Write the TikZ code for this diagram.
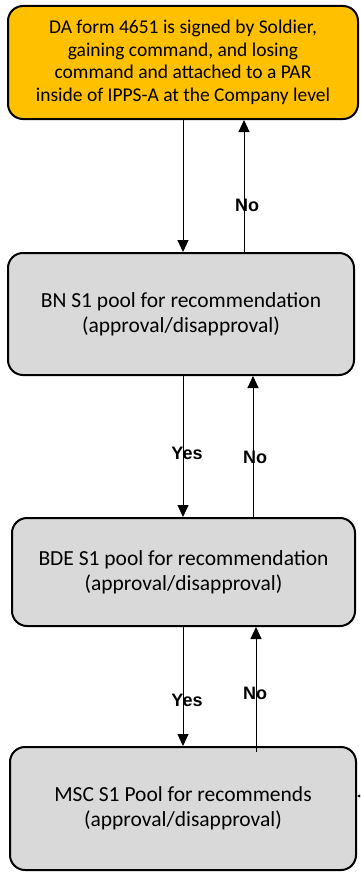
\documentclass[tikz,border=0pt]{standalone}
\usepackage{fontspec}
\setmainfont{Carlito}
\newfontfamily\labelfont{Liberation Sans}
\usetikzlibrary{arrows.meta}
\definecolor{startfill}{HTML}{FFC000}
\definecolor{stepfill}{HTML}{D9D9D9}
\tikzset{
  flowbox/.style={draw=black, line width=2pt, rounded corners=15pt, align=center,
    font=\fontsize{21.5}{25}\selectfont, inner sep=0pt},
  arr/.style={line width=1pt, -{Triangle[width=11pt,length=12pt]}},
  answer/.style={font=\labelfont\bfseries\fontsize{18}{20}\selectfont, inner sep=0pt}
}
\begin{document}
\begin{tikzpicture}[x=1pt,y=-1pt]
\useasboundingbox (0,0) rectangle (360,875);
\begin{scope}
\clip (0,0) rectangle (360,875);
% process boxes
\node[flowbox, fill=startfill, minimum width=350pt, minimum height=113pt,
  font=\fontsize{19.5}{22.5}\selectfont] (par) at (183,62.5)
  {DA form 4651 is signed by Soldier,\\gaining command, and losing\\command and attached to a PAR\\inside of IPPS-A at the Company level};
\node[flowbox, fill=stepfill, minimum width=346pt, minimum height=122pt] (bn) at (181,314)
  {BN S1 pool for recommendation\\(approval/disapproval)};
\node[flowbox, fill=stepfill, minimum width=343pt, minimum height=108pt] (bde) at (183.5,572)
  {BDE S1 pool for recommendation\\(approval/disapproval)};
\node[flowbox, fill=stepfill, minimum width=346pt, minimum height=123pt] (msc) at (183,808.5)
  {MSC S1 Pool for recommends\\(approval/disapproval)};
% forward path
\draw[arr] (par.south -| 183,0) -- (bn.north -| 183,0);
\draw[arr] (bn.south -| 183,0) -- (bde.north -| 183,0);
\draw[arr] (bde.south -| 183,0) -- (msc.north -| 183,0);
% return path
\draw[arr] (bn.north -| 244,0) -- (par.south -| 244,0);
\draw[arr] (bde.north -| 253,0) -- (bn.south -| 253,0);
\coordinate (mscret) at (256,752);
\draw[arr] (mscret) -- (bde.south -| 256,0);
% incoming connector on the right
\coordinate (rightin) at (380,796);
\draw[arr] (rightin) -- (msc.east |- rightin);
% answers
\node[answer] (no1) at (247,205) {No};
\node[answer] (yes1) at (187,453) {Yes};
\node[answer] (no2) at (255,457) {No};
\node[answer] (yes2) at (187,700) {Yes};
\node[answer] (no3) at (255,693) {No};
\end{scope}
\end{tikzpicture}
\end{document}
